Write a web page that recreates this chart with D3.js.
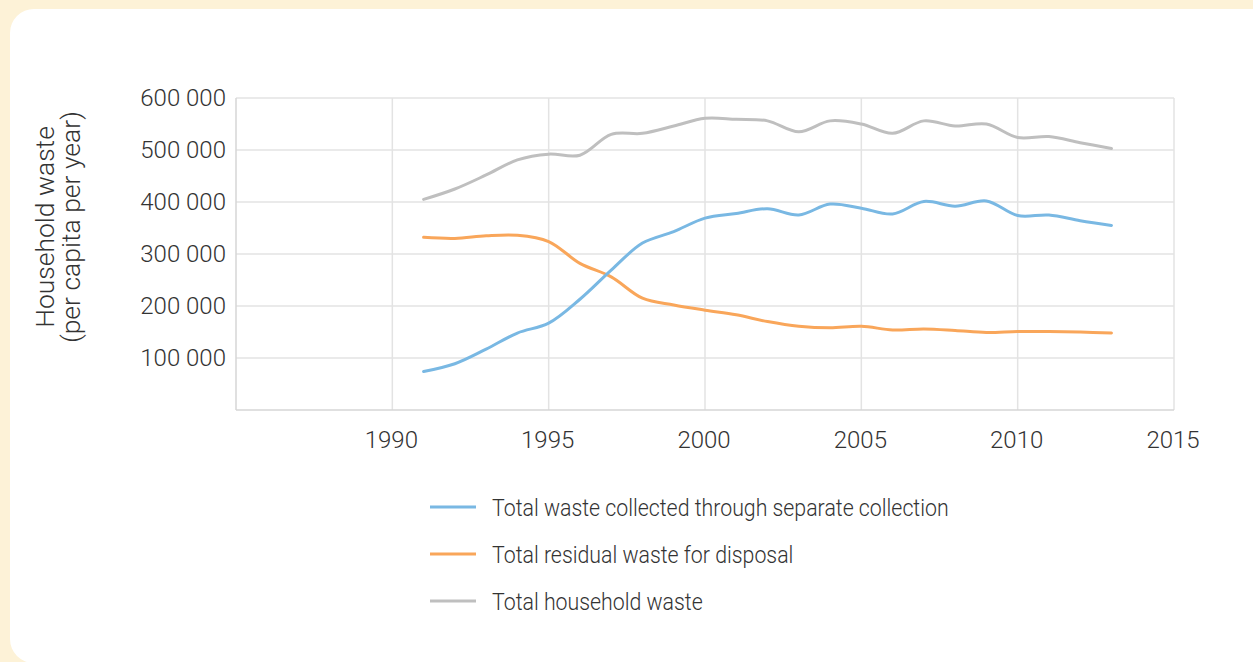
<!DOCTYPE html>
<html lang="en">
<head>
  <meta charset="UTF-8">
  <title>Household waste</title>
  <style>
    html, body {
      margin: 0;
      padding: 0;
      background: #fdf2d7;
    }
    svg text {
      font-family: Roboto, "Liberation Sans", sans-serif;
      font-weight: 300;
      fill: #333333;
    }
  </style>
</head>
<body>
<svg id="chart" width="1253" height="662"></svg>

<script src="https://d3js.org/d3.v7.min.js"></script>
<script>
  // Data
  const years = [1991, 1992, 1993, 1994, 1995, 1996, 1997, 1998, 1999, 2000, 2001, 2002,
                 2003, 2004, 2005, 2006, 2007, 2008, 2009, 2010, 2011, 2012, 2013];
  const separateCollection = [74000, 89000, 117000, 148000, 167000, 213000, 269000, 321000, 343000, 369000, 378000, 387000,
                              375000, 396000, 388000, 377000, 401000, 392000, 402000, 374000, 375000, 364000, 355000];
  const residualWaste = [332000, 330000, 335000, 336000, 324000, 282000, 256000, 215000, 202000, 192000, 183000, 170000,
                         161000, 158000, 161000, 154000, 156000, 153000, 149000, 151000, 151000, 150000, 148000];
  const totalWaste = [405000, 425000, 452000, 481000, 492000, 490000, 530000, 532000, 546000, 561000, 559000, 556000,
                      535000, 556000, 550000, 532000, 556000, 546000, 550000, 524000, 526000, 514000, 503000];
  const yTicks = [100000, 200000, 300000, 400000, 500000, 600000];
  const xTicks = [1990, 1995, 2000, 2005, 2010, 2015];

  const seriesList = [
    { name: 'Total waste collected through separate collection', values: separateCollection, color: '#79b8e3' },
    { name: 'Total residual waste for disposal', values: residualWaste, color: '#f9a65a' },
    { name: 'Total household waste', values: totalWaste, color: '#bfbfbf' }
  ];

  const svg = d3.select('#chart');

  // White card
  svg.append('rect')
    .attr('x', 10).attr('y', 9)
    .attr('width', 1270).attr('height', 654)
    .attr('rx', 24).attr('ry', 24)
    .attr('fill', '#ffffff');

  // Scales
  const x = d3.scaleLinear().domain([1985, 2015]).range([236, 1174]);
  const y = d3.scaleLinear().domain([0, 600000]).range([410, 98]);

  const grid = svg.append('g');

  // Horizontal gridlines
  grid.selectAll('.hgrid')
    .data(yTicks)
    .enter().append('line')
    .attr('x1', x(1985)).attr('x2', x(2015))
    .attr('y1', d => y(d)).attr('y2', d => y(d))
    .attr('stroke', '#e3e3e3')
    .attr('stroke-width', 1.5);

  // Vertical gridlines
  grid.selectAll('.vgrid')
    .data(xTicks)
    .enter().append('line')
    .attr('x1', d => x(d)).attr('x2', d => x(d))
    .attr('y1', y(600000)).attr('y2', y(0))
    .attr('stroke', '#e3e3e3')
    .attr('stroke-width', 1.5);

  // Axis lines
  grid.append('line')
    .attr('x1', x(1985)).attr('x2', x(1985))
    .attr('y1', y(600000)).attr('y2', y(0))
    .attr('stroke', '#d6d6d6').attr('stroke-width', 1.5);
  grid.append('line')
    .attr('x1', x(1985)).attr('x2', x(2015))
    .attr('y1', y(0)).attr('y2', y(0))
    .attr('stroke', '#d6d6d6').attr('stroke-width', 1.5);

  // Tick labels
  const fmt = v => d3.format(',')(v).replace(/,/g, ' ');
  svg.selectAll('.ylabel')
    .data(yTicks)
    .enter().append('text')
    .attr('x', 226)
    .attr('y', d => y(d))
    .attr('dy', '0.35em')
    .attr('text-anchor', 'end')
    .style('font-size', '24px')
    .text(fmt);

  svg.selectAll('.xlabel')
    .data(xTicks)
    .enter().append('text')
    .attr('x', d => x(d) - 1)
    .attr('y', 448)
    .attr('text-anchor', 'middle')
    .style('font-size', '24px')
    .text(d => d);

  // Y axis title
  const title = svg.append('text')
    .attr('transform', 'translate(54,227) rotate(-90)')
    .attr('text-anchor', 'middle')
    .style('font-size', '26.5px');
  title.append('tspan').attr('x', 0).attr('dy', 0).text('Household waste');
  title.append('tspan').attr('x', 0).attr('dy', 26).text('(per capita per year)');

  // Lines
  const line = d3.line()
    .x((d, i) => x(years[i]))
    .y(d => y(d))
    .curve(d3.curveCatmullRom.alpha(0.5));

  svg.selectAll('.series')
    .data(seriesList.slice().reverse())
    .enter().append('path')
    .attr('d', d => line(d.values))
    .attr('fill', 'none')
    .attr('stroke', d => d.color)
    .attr('stroke-width', 3)
    .attr('stroke-linecap', 'round');

  // Legend
  const legend = svg.selectAll('.legend')
    .data(seriesList)
    .enter().append('g')
    .attr('transform', (d, i) => `translate(430,${507 + i * 47})`);

  legend.append('line')
    .attr('x1', 0).attr('x2', 46)
    .attr('stroke', d => d.color)
    .attr('stroke-width', 3);

  // the original legend font is a narrow one, so squeeze the text a bit
  legend.append('text')
    .attr('transform', 'translate(62,0) scale(0.87,1)')
    .attr('dy', '0.35em')
    .style('font-size', '24.5px')
    .text(d => d.name);
</script>
</body>
</html>
